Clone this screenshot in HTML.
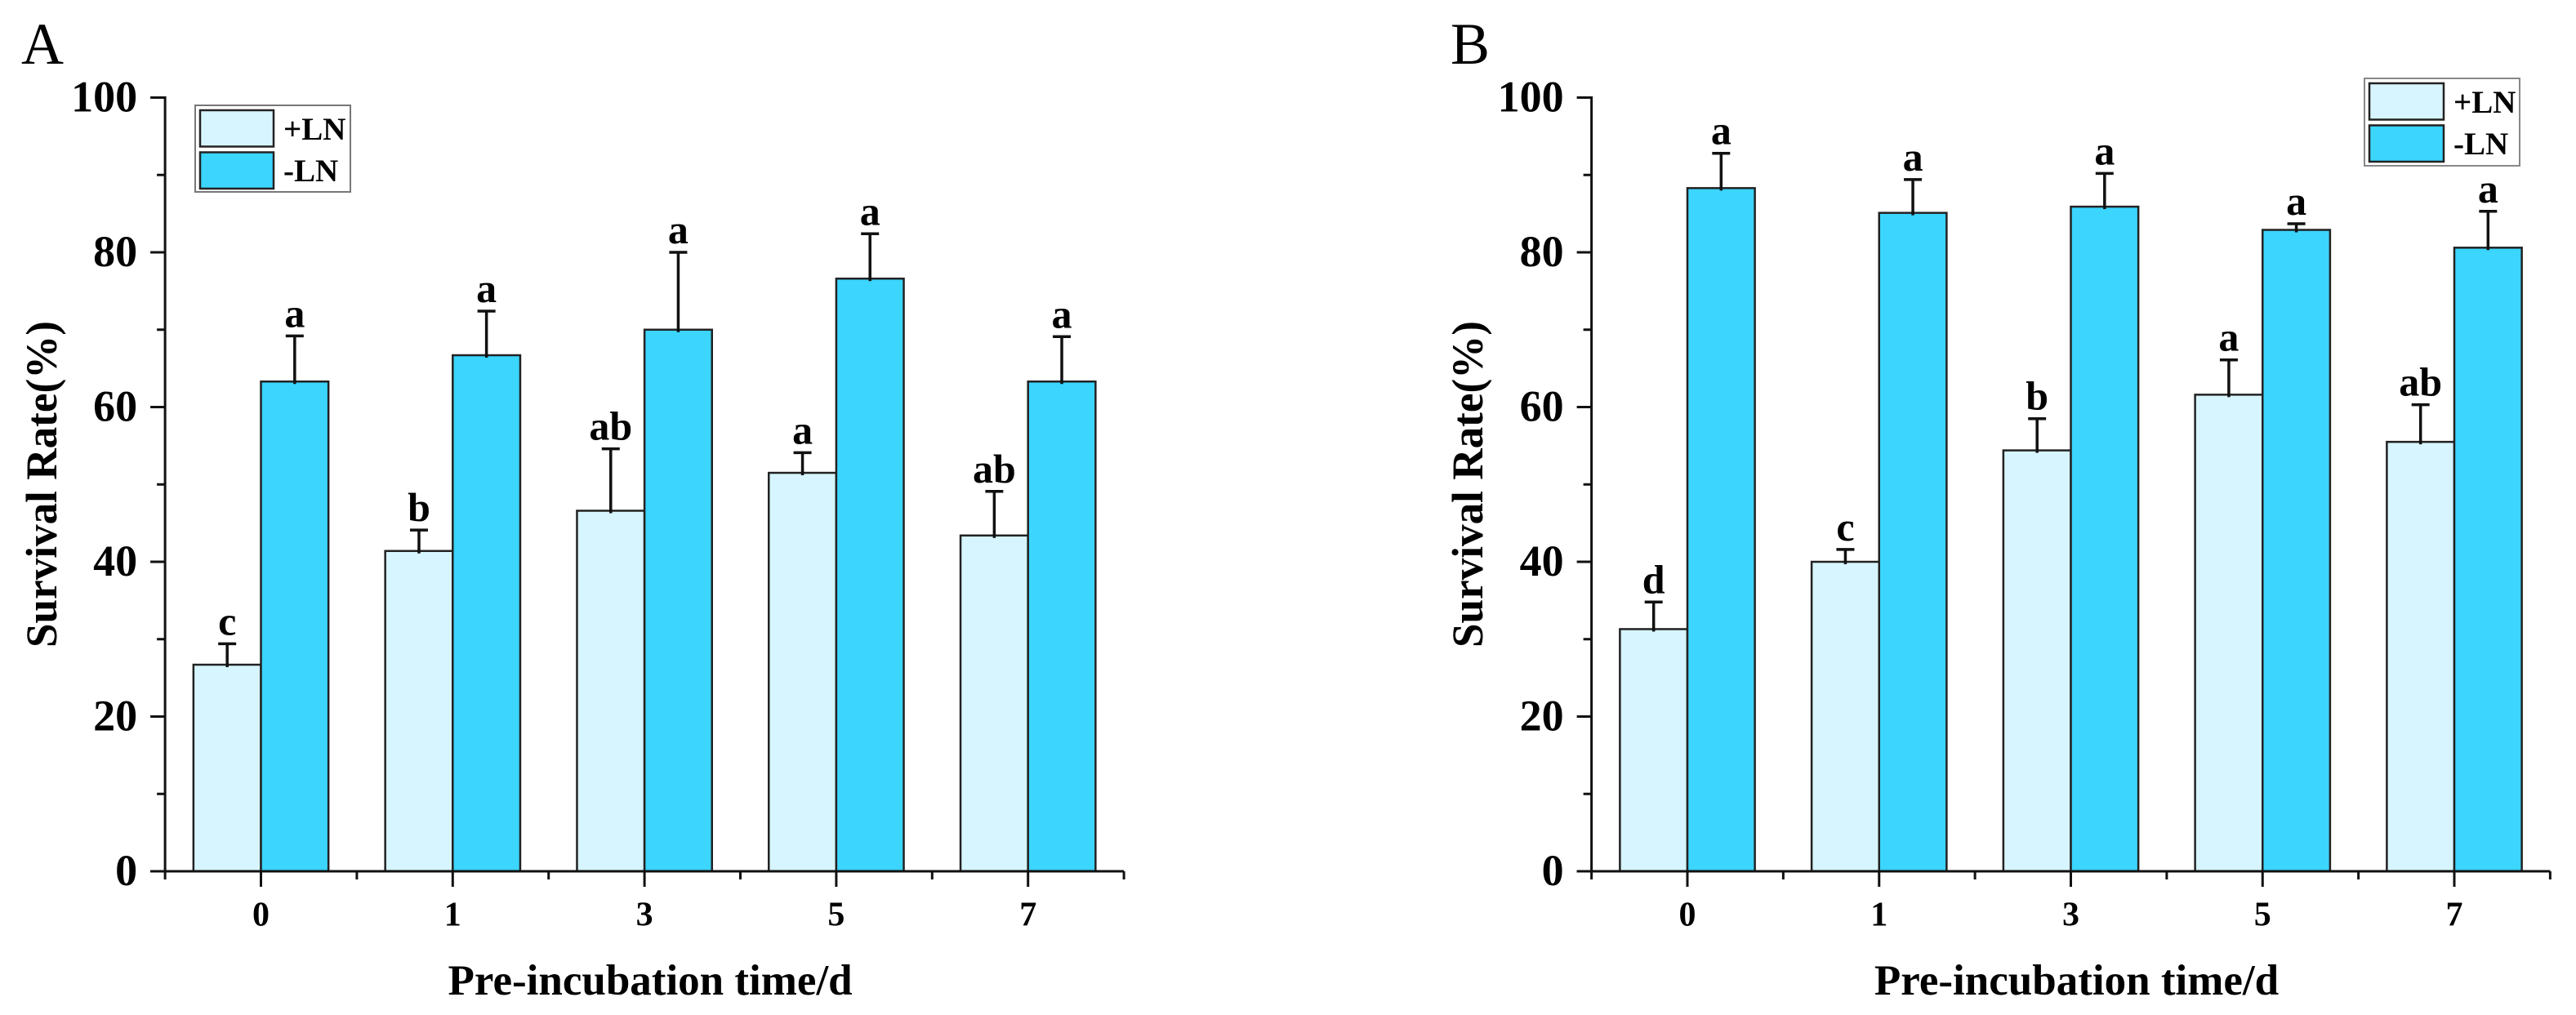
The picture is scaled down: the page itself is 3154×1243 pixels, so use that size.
<!DOCTYPE html>
<html lang="en">
<head>
<meta charset="utf-8">
<title>Survival rate by pre-incubation time</title>
<style>
html,body{margin:0;padding:0;background:#fff;width:3154px;height:1243px;overflow:hidden}
svg{display:block}
text{font-family:"Liberation Serif",serif;fill:#000}
.b{font-weight:bold}
</style>
</head>
<body>
<svg id="chart" xmlns="http://www.w3.org/2000/svg" width="3154" height="1243" viewBox="0 0 3154 1243"></svg>
<script>
const categories = ['0', '1', '3', '5', '7'];
const yTickValues = [0, 20, 40, 60, 80, 100];
const yMinorValues = [10, 30, 50, 70, 90];
const seriesNames = ['+LN', '-LN'];

const panelAPlus = [26.7, 41.4, 46.6, 51.5, 43.4];
const panelAMinus = [63.3, 66.7, 70.0, 76.6, 63.3];
const panelAPlusErr = [2.7, 2.7, 8.0, 2.6, 5.7];
const panelAMinusErr = [5.9, 5.7, 10.0, 5.8, 5.8];
const panelAPlusLetters = ['c', 'b', 'ab', 'a', 'ab'];
const panelAMinusLetters = ['a', 'a', 'a', 'a', 'a'];

const panelBPlus = [31.3, 40.0, 54.4, 61.6, 55.5];
const panelBMinus = [88.3, 85.1, 85.9, 82.9, 80.6];
const panelBPlusErr = [3.5, 1.6, 4.1, 4.5, 4.8];
const panelBMinusErr = [4.5, 4.3, 4.3, 0.8, 4.7];
const panelBPlusLetters = ['d', 'c', 'b', 'a', 'ab'];
const panelBMinusLetters = ['a', 'a', 'a', 'a', 'a'];

const NS = 'http://www.w3.org/2000/svg';
const root = document.getElementById('chart');
const LIGHT = '#d7f5fe';
const CYAN = '#3bd5fe';
const INK = '#111';

function make(parent, tag, attrs, txt) {
  const n = document.createElementNS(NS, tag);
  for (const k in attrs) n.setAttribute(k, attrs[k]);
  if (txt !== undefined) n.textContent = txt;
  parent.appendChild(n);
  return n;
}

function drawPanel(p) {
  const g = make(root, 'g', {});
  
  

  const y = v => p.y0 - v * p.yUnit;
  const x = i => p.x0 + i * p.xStep;
  const barW = p.xStep * 0.352;

  const letter = make(g, 'text', {x: p.letterX, y: 78, 'font-size': 72}, p.id);
  
  

  categories.forEach((c, i) => {
    const plus = make(g, 'rect', {x: x(i) - barW, y: y(p.plus[i]), width: barW, height: p.y0 - y(p.plus[i]), fill: LIGHT, stroke: '#222', 'stroke-width': 2.5});
    
    
    const minus = make(g, 'rect', {x: x(i), y: y(p.minus[i]), width: barW, height: p.y0 - y(p.minus[i]), fill: CYAN, stroke: '#222', 'stroke-width': 2.5});
    
    
  });

  categories.forEach((c, i) => {
    const sets = [
      {cx: x(i) - barW / 2, v: p.plus[i], e: p.plusErr[i], l: p.plusLetters[i], s: 'plus-ln'},
      {cx: x(i) + barW / 2, v: p.minus[i], e: p.minusErr[i], l: p.minusLetters[i], s: 'minus-ln'}
    ];
    sets.forEach(d => {
      const top = y(d.v + d.e);
      const stem = make(g, 'line', {x1: d.cx, x2: d.cx, y1: y(d.v) + 3, y2: top, stroke: INK, 'stroke-width': 3.5});
      
      
      const cap = make(g, 'line', {x1: d.cx - 11, x2: d.cx + 11, y1: top, y2: top, stroke: INK, 'stroke-width': 3.5});
      
      
      const sig = make(g, 'text', {x: d.cx, y: top - 11, 'font-size': 50, 'text-anchor': 'middle', class: 'b'}, d.l);
      
      
    });
  });

  const xEnd = x(categories.length - 1) + p.xStep / 2;
  const xStart = x(0) - p.xStep / 2;

  const yAxis = make(g, 'line', {x1: xStart, x2: xStart, y1: y(100) - 1.5, y2: p.y0, stroke: INK, 'stroke-width': 3});
  
  
  const xAxis = make(g, 'line', {x1: xStart - 18, x2: xEnd, y1: p.y0, y2: p.y0, stroke: INK, 'stroke-width': 3});
  
  

  yTickValues.forEach(v => {
    const t = make(g, 'line', {x1: xStart - 18, x2: xStart, y1: y(v), y2: y(v), stroke: INK, 'stroke-width': 3});
    
    
    const l = make(g, 'text', {x: xStart - 34, y: y(v) + 17, 'font-size': 54, 'text-anchor': 'end', class: 'b'}, String(v));
    
    
  });
  yMinorValues.forEach(v => {
    const t = make(g, 'line', {x1: xStart - 10, x2: xStart, y1: y(v), y2: y(v), stroke: INK, 'stroke-width': 3});
    
    
  });

  categories.forEach((c, i) => {
    const t = make(g, 'line', {x1: x(i), x2: x(i), y1: p.y0, y2: p.y0 + 19, stroke: INK, 'stroke-width': 3});
    
    
    const l = make(g, 'text', {x: x(i), y: 1133.5, 'font-size': 42, 'text-anchor': 'middle', class: 'b'}, c);
    
    
  });
  for (let i = 0; i <= categories.length; i++) {
    const mx = x(i) - p.xStep / 2;
    const t = make(g, 'line', {x1: mx, x2: mx, y1: p.y0, y2: p.y0 + 10, stroke: INK, 'stroke-width': 3});
    
    
  }

  const xt = make(g, 'text', {x: x(2) + 7, y: 1218, 'font-size': 53, 'text-anchor': 'middle', class: 'b'}, 'Pre-incubation time/d');
  
  

  const yt = make(g, 'text', {x: 0, y: 0, 'font-size': 54, 'text-anchor': 'middle', class: 'b', textLength: 400, lengthAdjust: 'spacingAndGlyphs', transform: 'translate(' + p.titleX + ',593) rotate(-90)'}, 'Survival Rate(%)');
  
  

  const L = p.legend;
  const lg = make(g, 'g', {});
  
  
  const box = make(lg, 'rect', {x: L.x, y: L.y, width: L.w, height: L.h, fill: '#fff', stroke: L.stroke, 'stroke-width': 2});
  
  
  seriesNames.forEach((s, k) => {
    const sw = make(lg, 'rect', {x: L.x + 6, y: L.y + 6 + k * 51.5, width: L.swW, height: 44.5, fill: k ? CYAN : LIGHT, stroke: '#222', 'stroke-width': 2.5});
    
    
    const tx = make(lg, 'text', {x: L.x + L.swW + 18, y: L.y + 42 + k * 51, 'font-size': 39, class: 'b'}, s);
    
    
  });
}

drawPanel({
  id: 'A', x0: 319.5, xStep: 234.8, y0: 1067, yUnit: 9.475, letterX: 26, titleX: 69,
  plus: panelAPlus, minus: panelAMinus, plusErr: panelAPlusErr, minusErr: panelAMinusErr,
  plusLetters: panelAPlusLetters, minusLetters: panelAMinusLetters,
  legend: {x: 239, y: 129, w: 190, h: 106, swW: 90, stroke: '#777'}
});
drawPanel({
  id: 'B', x0: 2066, xStep: 234.75, y0: 1067, yUnit: 9.475, letterX: 1776, titleX: 1815,
  plus: panelBPlus, minus: panelBMinus, plusErr: panelBPlusErr, minusErr: panelBMinusErr,
  plusLetters: panelBPlusLetters, minusLetters: panelBMinusLetters,
  legend: {x: 2895, y: 96, w: 190, h: 107, swW: 91, stroke: '#888'}
});
</script>
</body>
</html>
